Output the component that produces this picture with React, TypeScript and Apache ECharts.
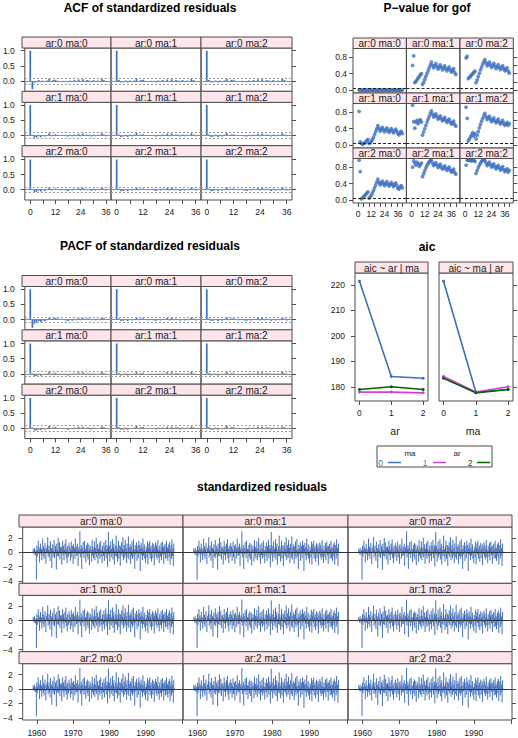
import React, { useEffect, useRef } from "react";
import * as echarts from "echarts";

// ---------------- data ----------------
const MODEL_LABELS = [
  ["ar:0 ma:0", "ar:0 ma:1", "ar:0 ma:2"],
  ["ar:1 ma:0", "ar:1 ma:1", "ar:1 ma:2"],
  ["ar:2 ma:0", "ar:2 ma:1", "ar:2 ma:2"],
];

const ACF_LAGS = [0, 1, 2, 3, 4, 5, 6, 7, 8, 9, 10, 11, 12, 13, 14, 15, 16, 17, 18, 19, 20, 21, 22, 23, 24, 25, 26, 27, 28, 29, 30, 31, 32, 33, 34, 35, 36];
const ACF_00 = [1, -0.27, -0.06, -0.04, 0.03, -0.04, 0.02, -0.03, 0.02, 0.08, -0.02, 0.03, 0.04, 0.01, -0.02, -0.01, 0.01, -0.03, -0.04, 0.02, -0.03, 0.03, -0.01, 0.05, -0.03, 0.06, -0.02, 0.03, 0.02, -0.04, 0.03, -0.03, 0.02, -0.02, 0.07, 0.03, -0.03];
const ACF_AR = [1, 0.02, -0.08, -0.07, -0.03, -0.06, 0.01, -0.04, 0.01, 0.07, -0.03, 0.02, 0.04, 0.01, -0.02, -0.02, 0.01, -0.03, -0.04, 0.02, -0.03, 0.03, -0.01, 0.05, -0.03, 0.06, -0.02, 0.03, 0.02, -0.04, 0.03, -0.03, 0.02, -0.02, 0.07, 0.03, -0.03];
const ACF_MA = [1, 0.03, -0.05, -0.04, 0.02, -0.05, 0.02, -0.03, 0.02, 0.08, -0.02, 0.03, 0.04, 0.01, -0.02, -0.01, 0.01, -0.03, -0.04, 0.02, -0.03, 0.03, -0.01, 0.05, -0.03, 0.06, -0.02, 0.03, 0.02, -0.04, 0.03, -0.03, 0.02, -0.02, 0.07, 0.03, -0.03];
const PACF_00 = [1, -0.27, -0.14, -0.11, -0.05, -0.08, -0.03, -0.06, -0.02, 0.06, 0.01, 0.04, 0.05, 0.03, 0.0, -0.01, 0.0, -0.03, -0.05, -0.01, -0.04, 0.01, -0.02, 0.04, -0.02, 0.05, 0.0, 0.03, 0.03, -0.02, 0.02, -0.02, 0.01, -0.02, 0.05, 0.04, -0.01];
const PACF_AR = [1, 0.02, -0.08, -0.07, -0.04, -0.06, 0.0, -0.04, 0.01, 0.07, -0.02, 0.02, 0.04, 0.01, -0.03, -0.02, 0.01, -0.03, -0.05, 0.01, -0.03, 0.02, -0.02, 0.05, -0.03, 0.05, -0.02, 0.02, 0.02, -0.04, 0.02, -0.03, 0.01, -0.03, 0.06, 0.03, -0.03];
const PACF_MA = [1, 0.03, -0.05, -0.04, 0.02, -0.05, 0.01, -0.03, 0.02, 0.08, -0.02, 0.03, 0.04, 0.0, -0.02, -0.02, 0.01, -0.03, -0.04, 0.02, -0.03, 0.02, -0.01, 0.05, -0.03, 0.05, -0.02, 0.03, 0.02, -0.04, 0.02, -0.03, 0.02, -0.02, 0.06, 0.03, -0.03];
const ACF_BY_MODEL = [
  [ACF_00, ACF_MA, ACF_MA],
  [ACF_AR, ACF_MA, ACF_MA],
  [ACF_AR, ACF_MA, ACF_MA],
];
const PACF_BY_MODEL = [
  [PACF_00, PACF_MA, PACF_MA],
  [PACF_AR, PACF_MA, PACF_MA],
  [PACF_AR, PACF_MA, PACF_MA],
];
const ACF_CI = 0.093;

const PV_LAGS = [1, 2, 3, 4, 5, 6, 7, 8, 9, 10, 11, 12, 13, 14, 15, 16, 17, 18, 19, 20, 21, 22, 23, 24, 25, 26, 27, 28, 29, 30, 31, 32, 33, 34, 35, 36, 37, 38, 39, 40];
const PV_00 = [0, 0, 0, 0, 0, 0, 0, 0, 0, 0, 0, 0, 0, 0, 0, 0, 0, 0, 0, 0, 0, 0, 0, 0, 0, 0, 0, 0, 0, 0, 0, 0, 0, 0, 0, 0, 0, 0, 0, 0];
const PV_01 = [0.6, 0.83, 0.18, 0.21, 0.25, 0.29, 0.33, 0.37, 0.4, 0.14, 0.19, 0.26, 0.33, 0.4, 0.47, 0.54, 0.61, 0.68, 0.6, 0.54, 0.59, 0.64, 0.57, 0.51, 0.56, 0.61, 0.55, 0.49, 0.54, 0.59, 0.52, 0.47, 0.52, 0.56, 0.49, 0.44, 0.48, 0.52, 0.43, 0.38];
const PV_02 = [0.78, 0.82, 0.28, 0.31, 0.34, 0.37, 0.4, 0.43, 0.46, 0.18, 0.25, 0.33, 0.41, 0.49, 0.56, 0.63, 0.69, 0.74, 0.66, 0.59, 0.63, 0.68, 0.61, 0.55, 0.6, 0.65, 0.58, 0.52, 0.57, 0.62, 0.55, 0.5, 0.55, 0.59, 0.52, 0.47, 0.5, 0.54, 0.46, 0.41];
const PV_10 = [0.82, 0.08, 0.04, 0.02, 0.03, 0.05, 0.08, 0.11, 0.14, 0.04, 0.06, 0.09, 0.13, 0.19, 0.26, 0.33, 0.4, 0.47, 0.4, 0.34, 0.38, 0.43, 0.37, 0.32, 0.37, 0.42, 0.36, 0.31, 0.35, 0.4, 0.35, 0.3, 0.34, 0.39, 0.34, 0.28, 0.25, 0.3, 0.33, 0.28];
const PV_11 = [0.97, 0.57, 0.41, 0.55, 0.6, 0.52, 0.58, 0.62, 0.56, 0.24, 0.32, 0.4, 0.48, 0.56, 0.63, 0.7, 0.77, 0.83, 0.75, 0.68, 0.72, 0.76, 0.69, 0.63, 0.67, 0.71, 0.64, 0.59, 0.63, 0.67, 0.6, 0.55, 0.59, 0.63, 0.56, 0.51, 0.54, 0.58, 0.5, 0.46];
const PV_12 = [0.92, 0.65, 0.1, 0.15, 0.2, 0.25, 0.3, 0.22, 0.28, 0.15, 0.24, 0.33, 0.42, 0.5, 0.58, 0.65, 0.72, 0.77, 0.69, 0.62, 0.66, 0.7, 0.63, 0.57, 0.61, 0.66, 0.59, 0.54, 0.58, 0.63, 0.56, 0.51, 0.55, 0.6, 0.53, 0.48, 0.51, 0.55, 0.48, 0.52];
const PV_20 = [0.97, 0.69, 0.03, 0.05, 0.08, 0.11, 0.14, 0.17, 0.2, 0.05, 0.08, 0.12, 0.17, 0.23, 0.3, 0.37, 0.44, 0.51, 0.43, 0.37, 0.41, 0.46, 0.4, 0.35, 0.4, 0.45, 0.39, 0.34, 0.38, 0.43, 0.38, 0.33, 0.37, 0.42, 0.36, 0.29, 0.27, 0.32, 0.35, 0.3];
const PV_21 = [0.8, 0.95, 0.9, 0.85, 0.92, 0.88, 0.82, 0.86, 0.9, 0.57, 0.64, 0.71, 0.78, 0.84, 0.89, 0.93, 0.96, 0.97, 0.9, 0.84, 0.87, 0.91, 0.85, 0.79, 0.83, 0.87, 0.8, 0.75, 0.79, 0.83, 0.77, 0.72, 0.76, 0.8, 0.73, 0.68, 0.71, 0.75, 0.67, 0.63];
const PV_22 = [0.85, 0.97, 0.97, 0.96, 0.97, 0.95, 0.97, 0.96, 0.94, 0.65, 0.72, 0.79, 0.85, 0.9, 0.94, 0.97, 0.98, 0.96, 0.9, 0.84, 0.88, 0.92, 0.86, 0.8, 0.84, 0.88, 0.81, 0.76, 0.8, 0.84, 0.78, 0.73, 0.77, 0.81, 0.74, 0.69, 0.72, 0.76, 0.68, 0.72];
const PV_BY_MODEL = [
  [PV_00, PV_01, PV_02],
  [PV_10, PV_11, PV_12],
  [PV_20, PV_21, PV_22],
];
const PV_LEVEL = 0.05;

// aic[ar][ma]
const AIC_AR0 = [221.5, 178.0, 179.0];
const AIC_AR1 = [184.1, 178.0, 180.1];
const AIC_AR2 = [183.4, 177.7, 179.0];
const AIC = [AIC_AR0, AIC_AR1, AIC_AR2];
const ORDERS = [0, 1, 2];

const RESID_START = 1959;
const RESID_FREQ = 8;
const RESID = [
  0.5, 0.2, -0.3, 0.6, 0.1, -0.4, 0.3, -3.8,
  0.9, -0.6, 0.3, 1.6, -0.2, 0.7, -1.4, 0.4,
  1.2, -0.3, 0.5, -1.1, 0.2, 1.9, -0.5, 0.8,
  -0.9, 0.4, 1.3, -0.2, -1.6, 0.6, 0.1, 1.0,
  2.1, -0.7, 0.3, 0.9, -0.4, -1.2, 1.5, -0.1,
  0.6, -2.2, 0.4, 1.1, -0.6, 0.2, 1.7, -0.8,
  -0.3, 0.9, 0.5, -2.4, 1.2, -0.5, 0.3, 2.0,
  -0.6, 0.2, 1.4, -1.0, 0.7, -0.2, 0.8, -1.7,
  0.4, 1.6, -0.4, 0.9, -1.1, 0.3, 1.2, -0.3,
  1.8, -0.8, 0.5, -1.5, 0.9, 0.1, -0.6, 1.3,
  -0.2, 0.8, -1.2, 0.4, 1.5, -0.7, 0.2, 0.9,
  -1.6, 1.1, -0.1, 0.6, -0.9, 1.9, 0.3, -0.5,
  0.8, -0.4, 1.2, -1.9, 0.3, 0.7, -0.2, 2.9,
  -0.7, 0.4, 1.0, -2.3, 0.6, -0.3, 1.4, 0.2,
  -0.8, 1.6, -0.2, 0.5, -1.4, 0.4, 1.0, -0.6,
  1.3, -1.0, 0.2, 1.1, -1.8, 0.5, -0.1, 0.9,
  0.3, -1.3, 1.7, -0.4, 0.7, -0.8, 0.4, 1.5,
  -1.1, 0.6, -0.3, 2.0, -0.7, 0.2, 1.1, -1.6,
  0.5, -0.4, 1.3, -0.9, 0.4, 1.6, -0.6, 0.3,
  -1.5, 0.9, 0.2, -0.5, 1.4, -1.2, 0.8, -0.2,
  1.7, -0.8, 0.4, 1.0, -2.0, 0.6, 2.8, -0.4,
  0.9, -1.3, 0.3, 1.5, -0.7, 0.5, -0.3, 1.8,
  -1.0, 0.7, 1.2, -1.7, 0.3, -0.5, 0.9, 2.3,
  -0.6, 0.4, -1.3, 0.8, 1.6, -0.9, 0.2, 1.0,
  -1.9, 0.8, -0.3, 1.4, -0.6, 0.5, 2.1, -1.1,
  0.3, 1.0, -0.8, 1.7, -0.4, 0.6, -1.5, 1.2,
  0.1, -0.7, 2.2, -1.0, 0.7, -0.2, 1.1, -1.6,
  0.8, -0.5, 1.5, -0.9, 0.3, 1.8, -0.6, 0.4,
  -2.3, 1.0, -0.3, 0.6, 1.4, -1.2, 0.2, 0.9,
  -0.8, 1.6, -0.2, 1.0, -2.6, 0.5, 1.3, -0.4,
  0.7, -1.1, 1.9, -0.5, 0.4, 1.1, -0.9, 0.2,
  -1.5, 0.8, 0.3, -0.7, 1.5, -1.7, 0.6, 1.2,
  -0.3, 1.6, -0.9, 0.5, 0.9, -1.3, 0.1, 1.3,
  -0.8, 0.4, 1.1, -1.8, 0.7, -0.2, 1.4, -0.6,
  1.0, -1.0, 0.5, 1.7, -0.7, 0.3, -1.5, 0.9,
  0.2, -0.6, 1.3, -1.1, 0.6, 1.5, -0.4, 0.8,
  -1.6, 0.9, -0.3, 1.2, -0.9, 0.4, 1.6, -0.8,
  0.7, -1.2, 0.5, 1.1, -0.6, 1.4, -1.7, 0.3,
  1.0, -0.9, 1.8, -0.5, 0.6, -1.9, 1.2, 0.1,
];
const RESID_TIME = RESID.map((_, i) => RESID_START + i / RESID_FREQ);

const ACF_X_TICKS = [0, 6, 12, 18, 24, 30, 36];
const ACF_X_LABELS = [0, 12, 24, 36];
const ACF_Y_TICKS = [0, 0.5, 1];
const PV_X_TICKS = [0, 5, 10, 15, 20, 25, 30, 35, 40];
const PV_X_LABELS = [0, 12, 24, 36];
const PV_Y_TICKS = [0, 0.2, 0.4, 0.6, 0.8];
const AIC_Y_TICKS = [180, 190, 200, 210, 220];
const RES_X_TICKS = [1960, 1970, 1980, 1990, 2000];
const RES_X_LABELS = [1960, 1970, 1980, 1990];
const RES_Y_TICKS = [-4, -2, 0, 2];

// ---------------- style ----------------
const FONT = "'Liberation Sans', Arial, Helvetica, sans-serif";
const FRAME = "#4d4d4d";
const TEXT = "#1a1a1a";
const STRIP = "#fde5ea";
const BLUE = "#3d6fc0";
const RES_BLUE = "#3563b3";
const MAGENTA = "#d040d0";
const GREEN = "#006400";
const GROUP_COLORS = [BLUE, MAGENTA, GREEN];
const TICK = 4;
const TICK_FONT = 8.5;

const minus = (s: string) => s.replace("-", "\u2212");

function spikeSeries(xi: number, yi: number, data: number[][], width: number, color: string, opacity: number) {
  return {
    type: "custom",
    xAxisIndex: xi,
    yAxisIndex: yi,
    silent: true,
    encode: { x: 0, y: 1 },
    clip: true,
    data,
    renderItem: (_params: any, api: any) => {
      const x = api.value(0);
      const y = api.value(1);
      const p0 = api.coord([x, 0]);
      const p1 = api.coord([x, y]);
      return {
        type: "line",
        shape: { x1: p0[0], y1: p0[1], x2: p1[0], y2: p1[1] },
        style: { stroke: color, lineWidth: width, opacity },
      };
    },
  };
}

function buildOption() {
  const grids: any[] = [];
  const xAxes: any[] = [];
  const yAxes: any[] = [];
  const series: any[] = [];
  const graphics: any[] = [];

  const axisCommon = {
    type: "value",
    axisLine: { show: false, onZero: false },
    splitLine: { show: false },
    axisPointer: { show: false },
  };

  function addPanel(p: any) {
    const gi = grids.length;
    grids.push({
      left: p.x, top: p.y, width: p.w, height: p.h,
      show: true, borderColor: FRAME, borderWidth: 1, backgroundColor: "transparent",
    });
    const xi = xAxes.length;
    xAxes.push({
      ...axisCommon, gridIndex: gi, position: "bottom", min: p.xMin, max: p.xMax,
      axisTick: { show: !!p.bottom, length: TICK, lineStyle: { color: FRAME }, customValues: p.xTicks },
      axisLabel: {
        show: !!p.bottomLabels, customValues: p.xLabels, margin: p.xMargin, fontSize: TICK_FONT,
        color: TEXT, fontFamily: FONT, hideOverlap: false, showMinLabel: true, showMaxLabel: true,
        formatter: (v: number) => String(v),
      },
    });
    if (p.top) {
      xAxes.push({
        ...axisCommon, gridIndex: gi, position: "top", min: p.xMin, max: p.xMax,
        axisTick: { show: true, length: TICK, lineStyle: { color: FRAME }, customValues: p.xTicks },
        axisLabel: { show: false },
      });
    }
    const yi = yAxes.length;
    yAxes.push({
      ...axisCommon, gridIndex: gi, position: "left", min: p.yMin, max: p.yMax,
      axisTick: { show: !!p.left, length: TICK, lineStyle: { color: FRAME }, customValues: p.yTicks },
      axisLabel: {
        show: !!p.left, customValues: p.yTicks, margin: p.yMargin, fontSize: TICK_FONT,
        color: TEXT, fontFamily: FONT, hideOverlap: false, showMinLabel: true, showMaxLabel: true,
        formatter: p.yFmt,
      },
    });
    if (p.right) {
      yAxes.push({
        ...axisCommon, gridIndex: gi, position: "right", min: p.yMin, max: p.yMax,
        axisTick: { show: true, length: TICK, lineStyle: { color: FRAME }, customValues: p.yTicks },
        axisLabel: { show: false },
      });
    }
    return { xi, yi };
  }

  function addStrip(x: number, y: number, w: number, h: number, text: string) {
    graphics.push({
      type: "rect", z: 10, shape: { x, y, width: w, height: h },
      style: { fill: STRIP, stroke: FRAME, lineWidth: 1 },
    });
    graphics.push({
      type: "text", z: 11, x: x + w / 2, y: y + h / 2 + 0.5,
      style: { text, fontSize: 10, fontFamily: FONT, fill: TEXT, align: "center", verticalAlign: "middle" },
    });
  }

  function addTitle(text: string, x: number, y: number) {
    graphics.push({
      type: "text", z: 11, x, y,
      style: { text, fontSize: 12, fontWeight: "bold", fontFamily: FONT, fill: "#000", align: "center", verticalAlign: "middle" },
    });
  }

  function hline(xi: number, yi: number, value: number, color: string, type: any) {
    return {
      type: "line", xAxisIndex: xi, yAxisIndex: yi, data: [], silent: true,
      markLine: {
        silent: true, symbol: "none", label: { show: false },
        data: [{ yAxis: value, lineStyle: { color, width: 1, type } }],
      },
    };
  }

  // ---------- ACF / PACF ----------
  const acfCols = [22, 111, 201];
  const acfWidths = [89, 90, 91];
  function correlogram(title: string, dy: number, byModel: number[][][]) {
    addTitle(title, 150, 7.5 + dy);
    const rowH = 163 / 3;
    for (let r = 0; r < 3; r++) {
      for (let c = 0; c < 3; c++) {
        const stripTop = 37 + dy + r * rowH;
        const { xi, yi } = addPanel({
          x: acfCols[c], y: stripTop + 11, w: acfWidths[c], h: rowH - 11,
          xMin: -2.6, xMax: 38.4, yMin: -0.34, yMax: 1.09,
          xTicks: ACF_X_TICKS, xLabels: ACF_X_LABELS, yTicks: ACF_Y_TICKS,
          top: r === 0, bottom: r === 2, bottomLabels: r === 2, left: c === 0, right: c === 2,
          xMargin: 7, yMargin: 10, yFmt: (v: number) => v.toFixed(1),
        });
        addStrip(acfCols[c], stripTop, acfWidths[c], 11, MODEL_LABELS[r][c]);
        const vals = byModel[r][c];
        series.push(hline(xi, yi, 0, "#8c8c8c", "solid"));
        series.push(hline(xi, yi, ACF_CI, "#9a9a9a", [2, 2]));
        series.push(hline(xi, yi, -ACF_CI, "#9a9a9a", [2, 2]));
        series.push(spikeSeries(xi, yi, ACF_LAGS.map((l, i) => [l, vals[i]]), 1.7, BLUE, 1));
      }
    }
  }
  correlogram("ACF of standardized residuals", 0, ACF_BY_MODEL);
  correlogram("PACF of standardized residuals", 238.5, PACF_BY_MODEL);

  // ---------- P-values ----------
  addTitle("P\u2212value for gof", 427, 7.5);
  const pvCols = [353, 406.5, 460];
  for (let r = 0; r < 3; r++) {
    for (let c = 0; c < 3; c++) {
      const stripTop = 38 + r * 55;
      const { xi, yi } = addPanel({
        x: pvCols[c], y: stripTop + 10.5, w: 53.3, h: 44.5,
        xMin: -4.5, xMax: 43.6, yMin: -0.07, yMax: 1.01,
        xTicks: PV_X_TICKS, xLabels: PV_X_LABELS, yTicks: PV_Y_TICKS,
        top: r === 0, bottom: r === 2, bottomLabels: r === 2, left: c === 0, right: c === 2,
        xMargin: 6, yMargin: 6, yFmt: (v: number) => v.toFixed(1),
      });
      addStrip(pvCols[c], stripTop, 53.3, 10.5, MODEL_LABELS[r][c]);
      const vals = PV_BY_MODEL[r][c];
      series.push(hline(xi, yi, PV_LEVEL, "#222", [3, 2]));
      series.push({
        type: "scatter", xAxisIndex: xi, yAxisIndex: yi, symbolSize: 3.8, silent: true,
        itemStyle: { color: BLUE },
        data: PV_LAGS.map((l, i) => [l, vals[i]]),
      });
    }
  }

  // ---------- aic ----------
  addTitle("aic", 427, 247);
  const aicPanels = [
    { x: 355, w: 73, strip: "aic ~ ar | ma", left: true, right: false },
    { x: 439, w: 74, strip: "aic ~ ma | ar", left: false, right: true },
  ];
  aicPanels.forEach((ap, k) => {
    const { xi, yi } = addPanel({
      x: ap.x, y: 273, w: ap.w, h: 128,
      xMin: -0.14, xMax: 2.15, yMin: 174.5, yMax: 224.7,
      xTicks: ORDERS, xLabels: ORDERS, yTicks: AIC_Y_TICKS,
      top: false, bottom: true, bottomLabels: true, left: ap.left, right: ap.right,
      xMargin: 7, yMargin: 10, yFmt: (v: number) => String(v),
    });
    addStrip(ap.x, 262, ap.w, 11, ap.strip);
    for (let g = 0; g < 3; g++) {
      const data = ORDERS.map((o) => (k === 0 ? [o, AIC[o][g]] : [o, AIC[g][o]]));
      series.push({
        type: "line", xAxisIndex: xi, yAxisIndex: yi, silent: true,
        symbol: "circle", symbolSize: 3, showSymbol: true,
        lineStyle: { color: GROUP_COLORS[g], width: 1.6 },
        itemStyle: { color: GROUP_COLORS[g] },
        data,
      });
    }
  });
  graphics.push({
    type: "text", z: 11, x: 395, y: 431,
    style: { text: "ar", fontSize: 10.5, fontFamily: FONT, fill: TEXT, align: "center", verticalAlign: "middle" },
  });
  graphics.push({
    type: "text", z: 11, x: 473, y: 431,
    style: { text: "ma", fontSize: 10.5, fontFamily: FONT, fill: TEXT, align: "center", verticalAlign: "middle" },
  });
  // legend
  graphics.push({
    type: "rect", z: 10, shape: { x: 377, y: 446, width: 115, height: 21 },
    style: { fill: "none", stroke: FRAME, lineWidth: 1 },
  });
  const legendHead = [["ma", 410], ["ar", 457]];
  legendHead.forEach(([t, x]) => {
    graphics.push({
      type: "text", z: 11, x: x as number, y: 453,
      style: { text: t as string, fontSize: 8, fontFamily: FONT, fill: TEXT, align: "center", verticalAlign: "middle" },
    });
  });
  const legendItems = [
    { label: "0", tx: 380.5, l0: 388, l1: 401 },
    { label: "1", tx: 425, l0: 433, l1: 446 },
    { label: "2", tx: 470, l0: 477, l1: 490 },
  ];
  legendItems.forEach((it, g) => {
    graphics.push({
      type: "text", z: 11, x: it.tx, y: 462.5,
      style: { text: it.label, fontSize: 8.5, fontFamily: FONT, fill: GROUP_COLORS[g], align: "center", verticalAlign: "middle" },
    });
    graphics.push({
      type: "line", z: 11, shape: { x1: it.l0, y1: 462.5, x2: it.l1, y2: 462.5 },
      style: { stroke: GROUP_COLORS[g], lineWidth: 1.5 },
    });
  });

  // ---------- standardized residuals ----------
  addTitle("standardized residuals", 262, 487);
  const resCols = [19, 183, 348];
  const resW = [164, 165, 164];
  const resRowH = 205 / 3;
  for (let r = 0; r < 3; r++) {
    for (let c = 0; c < 3; c++) {
      const stripTop = 515 + r * resRowH;
      const { xi, yi } = addPanel({
        x: resCols[c], y: stripTop + 12, w: resW[c], h: resRowH - 12,
        xMin: 1956.1, xMax: 2000.3, yMin: -4.3, yMax: 3.5,
        xTicks: RES_X_TICKS, xLabels: RES_X_LABELS, yTicks: RES_Y_TICKS,
        top: r === 0, bottom: r === 2, bottomLabels: r === 2, left: c === 0, right: c === 2,
        xMargin: 8, yMargin: 10, yFmt: (v: number) => minus(String(v)),
      });
      addStrip(resCols[c], stripTop, resW[c], 12, MODEL_LABELS[r][c]);
      series.push(spikeSeries(xi, yi, RESID_TIME.map((t, i) => [t, RESID[i]]), 1.0, RES_BLUE, 0.92));
      series.push(hline(xi, yi, 0, "#333", "solid"));
    }
  }

  return {
    animation: false,
    backgroundColor: "#ffffff",
    tooltip: { show: false },
    grid: grids,
    xAxis: xAxes,
    yAxis: yAxes,
    series,
    graphic: { elements: graphics },
  };
}

export default function App() {
  const ref = useRef<HTMLDivElement>(null);
  useEffect(() => {
    document.body.style.margin = "0";
    if (!ref.current) return;
    const chart = echarts.init(ref.current, undefined, { renderer: "svg" });
    chart.setOption(buildOption() as any);
    return () => chart.dispose();
  }, []);
  return <div ref={ref} style={{ width: 518, height: 738 }} />;
}
